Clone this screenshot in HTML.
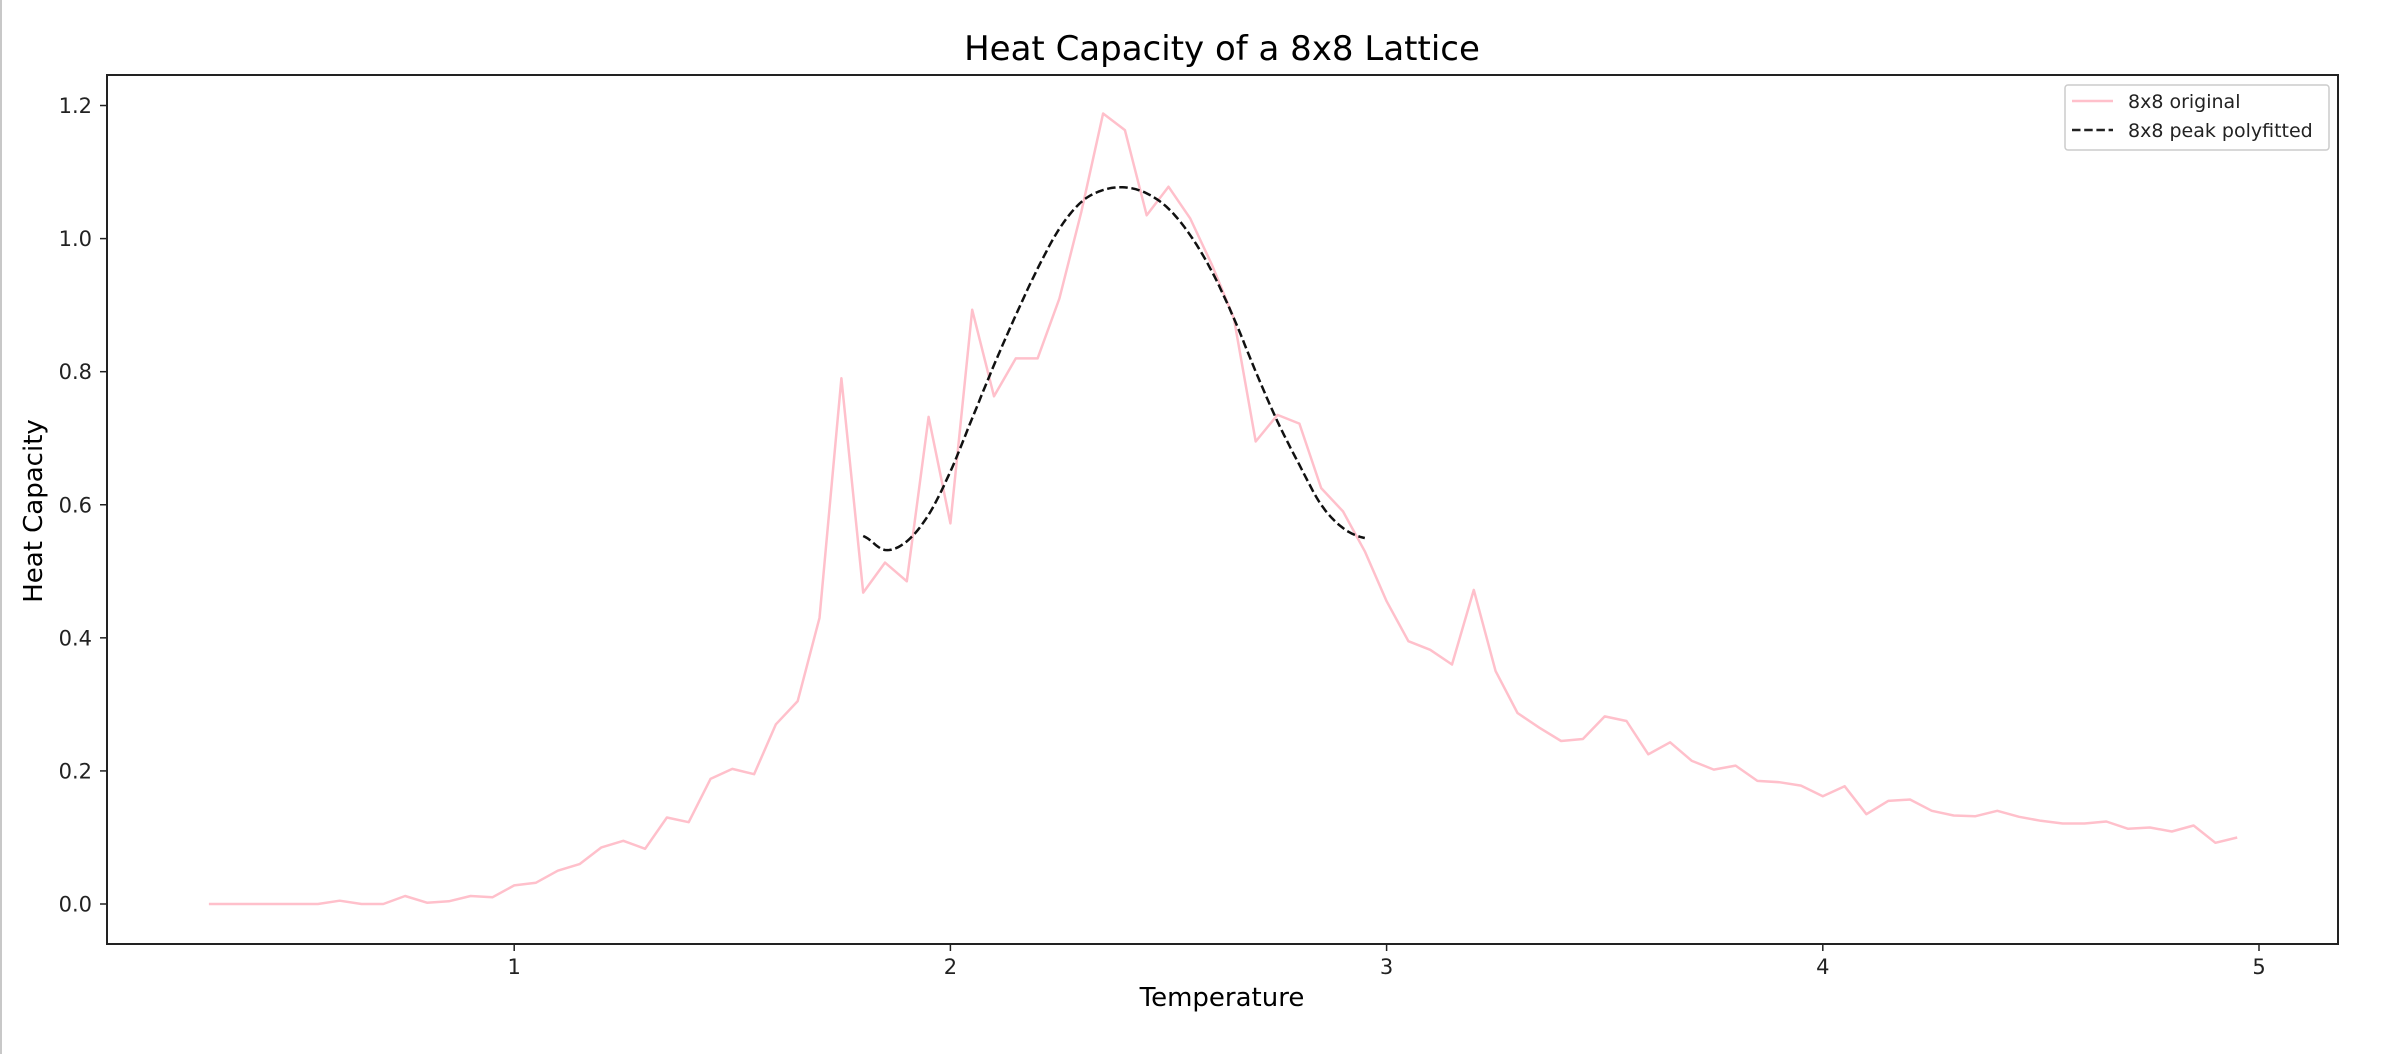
<!DOCTYPE html>
<html><head><meta charset="utf-8"><style>
html,body{margin:0;padding:0;background:#fff;}
svg{display:block;font-family:"DejaVu Sans","Liberation Sans",sans-serif;}
</style></head><body>
<svg id="s" width="2394" height="1054" xmlns="http://www.w3.org/2000/svg">
<rect x="0" y="0" width="2394" height="1054" fill="#fff"/>
<line x1="1" y1="0" x2="1" y2="1054" stroke="#c8c8c8" stroke-width="2"/>
<text x="1222" y="60" font-size="34" text-anchor="middle" fill="#000">Heat Capacity of a 8x8 Lattice</text>
<g id="plot"></g>
<rect x="107" y="75" width="2231" height="869" fill="none" stroke="#222" stroke-width="2"/>
<g id="ticks" font-size="21" fill="#222"></g>
<text x="1222" y="1006" font-size="26" text-anchor="middle" fill="#000">Temperature</text>
<text transform="translate(42,511) rotate(-90)" font-size="26" text-anchor="middle" fill="#000">Heat Capacity</text>
<rect x="2065" y="85" width="264" height="65" rx="3" fill="#fff" stroke="#ccc" stroke-width="1.5"/>
<line x1="2072" y1="101" x2="2113" y2="101" stroke="#ffc0cb" stroke-width="2.5"/>
<line x1="2072" y1="130" x2="2113" y2="130" stroke="#222" stroke-width="2.5" stroke-dasharray="8.5,3.7"/>
<text x="2128" y="108" font-size="19" fill="#222">8x8 original</text>
<text x="2128" y="137" font-size="19" fill="#222">8x8 peak polyfitted</text>
</svg>
<script>
var X=function(t){return 78+436.2*t;},Y=function(v){return 904-665.4*v;};
var vals=[0,0,0,0,0,0,0.005,0,0,0.012,0.002,0.004,0.012,0.01,0.028,0.032,0.05,0.06,0.085,0.095,0.083,0.13,0.123,0.188,0.203,0.195,0.27,0.305,0.43,0.79,0.468,0.513,0.485,0.732,0.572,0.893,0.763,0.82,0.82,0.91,1.04,1.188,1.163,1.035,1.078,1.03,0.96,0.88,0.695,0.735,0.722,0.625,0.59,0.53,0.455,0.395,0.382,0.36,0.472,0.35,0.287,0.265,0.245,0.248,0.282,0.275,0.225,0.243,0.215,0.202,0.208,0.185,0.183,0.178,0.162,0.177,0.135,0.155,0.157,0.14,0.133,0.132,0.14,0.131,0.125,0.121,0.121,0.124,0.113,0.115,0.109,0.118,0.092,0.1];
var p=[];for(var i=0;i<vals.length;i++){var t=0.3+0.05*i;p.push(X(t).toFixed(1)+","+Y(vals[i]).toFixed(1));}
var fit=[[1.8,0.553],[1.85,0.532],[1.9,0.545],[1.95,0.585],[2.0,0.65],[2.05,0.73],[2.1,0.81],[2.15,0.885],[2.2,0.955],[2.25,1.015],[2.3,1.055],[2.35,1.073],[2.4,1.077],[2.45,1.068],[2.5,1.045],[2.55,1.005],[2.6,0.95],[2.65,0.88],[2.7,0.80],[2.75,0.725],[2.8,0.66],[2.85,0.60],[2.9,0.565],[2.95,0.55]];
var q=[];
for(var i=0;i<fit.length-1;i++){var p0=fit[Math.max(i-1,0)],p1=fit[i],p2=fit[i+1],p3=fit[Math.min(i+2,fit.length-1)];
for(var k=0;k<10;k++){var s=k/10,s2=s*s,s3=s2*s;
var v=0.5*((2*p1[1])+(-p0[1]+p2[1])*s+(2*p0[1]-5*p1[1]+4*p2[1]-p3[1])*s2+(-p0[1]+3*p1[1]-3*p2[1]+p3[1])*s3);
var t=p1[0]+0.05*s;q.push(X(t).toFixed(1)+","+Y(v).toFixed(1));}}
q.push(X(2.95).toFixed(1)+","+Y(0.55).toFixed(1));
var g=document.getElementById("plot");
g.innerHTML='<polyline points="'+p.join(" ")+'" fill="none" stroke="#ffc0cb" stroke-width="2.5" stroke-linejoin="round"/>'+
'<polyline points="'+q.join(" ")+'" fill="none" stroke="#111" stroke-width="2.5" stroke-dasharray="8.5,3.7"/>';
var h="";
for(var t=1;t<=5;t++){var x=X(t);h+='<line x1="'+x+'" y1="944" x2="'+x+'" y2="951" stroke="#222" stroke-width="1.5"/><text x="'+x+'" y="974" text-anchor="middle">'+t+'</text>';}
for(var j=0;j<=6;j++){var v=j*0.2,y=Y(v);h+='<line x1="100" y1="'+y+'" x2="107" y2="'+y+'" stroke="#222" stroke-width="1.5"/><text x="92" y="'+(y+7.5)+'" text-anchor="end">'+v.toFixed(1)+'</text>';}
document.getElementById("ticks").innerHTML=h;
</script>
</body></html>
